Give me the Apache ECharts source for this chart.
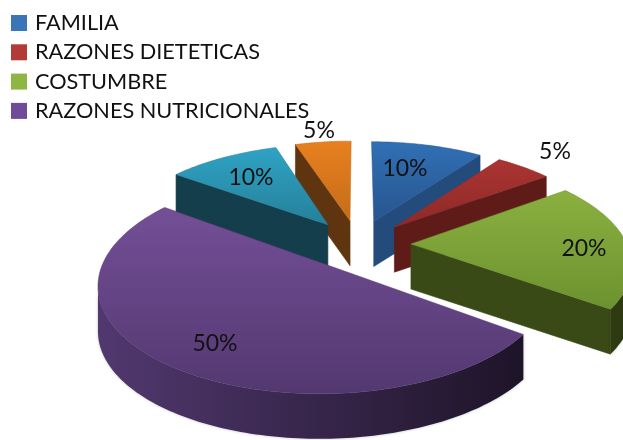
<!DOCTYPE html>
<html><head><meta charset="utf-8">
<style>html,body{margin:0;padding:0;background:#fff}#c{width:623px;height:440px;filter:blur(0.4px)}</style>
<script src="https://cdn.jsdelivr.net/npm/echarts@6/dist/echarts.min.js"></script>
</head><body><div id="c"></div>
<script>
// The reference legend names only four slices; the last two have no visible name, so they keep placeholder ids.
var categories = ['FAMILIA','RAZONES DIETETICAS','COSTUMBRE','RAZONES NUTRICIONALES','slice5','slice6'];
var values = [10,5,20,50,10,5];
var legendNames = ['FAMILIA','RAZONES DIETETICAS','COSTUMBRE','RAZONES NUTRICIONALES'];
var topColors = [['#3170b5','#27558f'],['#ab3431','#8c2a28'],['#8bb03f','#6c9230'],['#744f97','#533870'],['#2fa3c4','#25809a'],['#e8801f','#c46c1a']];
var wallColors = ['#234b7c','#5e1b18','#3a4a17','#372449','#143e4b','#5f3510'];
var arcColors = [['#234b7c','#234b7c'],['#5e1b18','#5e1b18'],['#2f3c12','#2a3610'],['#51386f','#1e1428'],['#143e4b','#143e4b'],['#5f3510','#5f3510']];
var legendColors = ['#3a75b8','#b23a38','#8fb544','#6f4c99'];
var labelPositions = [[405,169],[555,152],[584,249],[215,344],[251,178],[319,131]];

var view = {cx:358, cy:244, rx:216, ry:100, persp:0.167, explode:0.245, depth:45};
var total = values.reduce(function(a,b){return a+b;},0);
var startFractions = [];
values.reduce(function(acc,v){startFractions.push(acc/total);return acc+v;},0);

function project(X,Y){
  var w = 1 - view.persp*Y;
  return [view.cx + view.rx*X/w, view.cy + view.ry*Y/w];
}
function dir(a){return [Math.sin(a), -Math.cos(a)];}
function down(p){return [p[0], p[1]+view.depth];}
function sliceAngles(i){
  var a0 = startFractions[i]*2*Math.PI, a1 = a0 + values[i]/total*2*Math.PI;
  return [a0,a1,(a0+a1)/2];
}
function renderSlice(i){
  return function(){
    var an = sliceAngles(i), m = dir(an[2]);
    var ox = m[0]*view.explode, oy = m[1]*view.explode;
    var apex = project(ox,oy), arc = [];
    var steps = Math.max(8, Math.round((an[1]-an[0])/0.02));
    for (var s=0;s<=steps;s++){
      var d = dir(an[0]+(an[1]-an[0])*s/steps);
      arc.push(project(ox+d[0],oy+d[1]));
    }
    var kids = [];
    function wall(a,b,fill){
      kids.push({type:'polygon',shape:{points:[a,b,down(b),down(a)]},
        style:{fill:fill,stroke:fill,lineWidth:0.6}});
    }
    var first = arc[0], last = arc[arc.length-1];
    if (first[0] < apex[0]-3) wall(apex,first,wallColors[i]);
    if (last[0] > apex[0]+3) wall(last,apex,wallColors[i]);
    var frontAll = [];
    for (var k=0;k<arc.length-1;k++){ if (arc[k+1][0]<arc[k][0]){ if(!frontAll.length) frontAll.push(arc[k]); frontAll.push(arc[k+1]); } }
    if (frontAll.length>1){
      var pts = frontAll.concat(frontAll.slice().reverse().map(down));
      kids.push({type:'polygon',shape:{points:pts},
        style:{fill:{type:'linear',x:0,y:0,x2:1,y2:0,colorStops:[{offset:0,color:arcColors[i][0]},{offset:1,color:arcColors[i][1]}]},
          shadowBlur:3,shadowColor:'rgba(0,0,0,0.25)'}});
    }
    kids.push({type:'polygon',shape:{points:[apex].concat(arc)},
      style:{fill:{type:'linear',x:0,y:0,x2:0,y2:1,colorStops:[{offset:0,color:topColors[i][0]},{offset:1,color:topColors[i][1]}]},
        stroke:topColors[i][1],lineWidth:0.5}});
    kids.push({type:'text',z2:50,style:{text:Math.round(values[i]/total*100)+'%',x:labelPositions[i][0],y:labelPositions[i][1],
      align:'center',verticalAlign:'middle',fill:'#111',font:'23px Lato'}});
    return {type:'group',children:kids};
  };
}
var order = categories.map(function(_,i){return i;}).sort(function(a,b){
  return dir(sliceAngles(a)[2])[1]-dir(sliceAngles(b)[2])[1];
});
var chart = echarts.init(document.getElementById('c'),null,{renderer:'canvas'});
chart.setOption({
  animation:false,
  backgroundColor:'#fff',
  legend:{
    left:11, top:12, orient:'vertical', itemWidth:16, itemHeight:16, itemGap:7.3, icon:'rect', selectedMode:false,
    textStyle:{fontFamily:'Lato',fontSize:21.7,color:'#111',padding:[0,0,0,3]},
    padding:0,
    data:legendNames.map(function(n,i){return {name:n,itemStyle:{color:legendColors[i]}};})
  },
  series:categories.map(function(n,i){
    return {type:'custom',name:n,coordinateSystem:'none',z:2+order.indexOf(i),silent:true,
      itemStyle:{color:legendColors[i]||topColors[i][0]},
      data:[values[i]],renderItem:renderSlice(i)};
  })
});
</script></body></html>
